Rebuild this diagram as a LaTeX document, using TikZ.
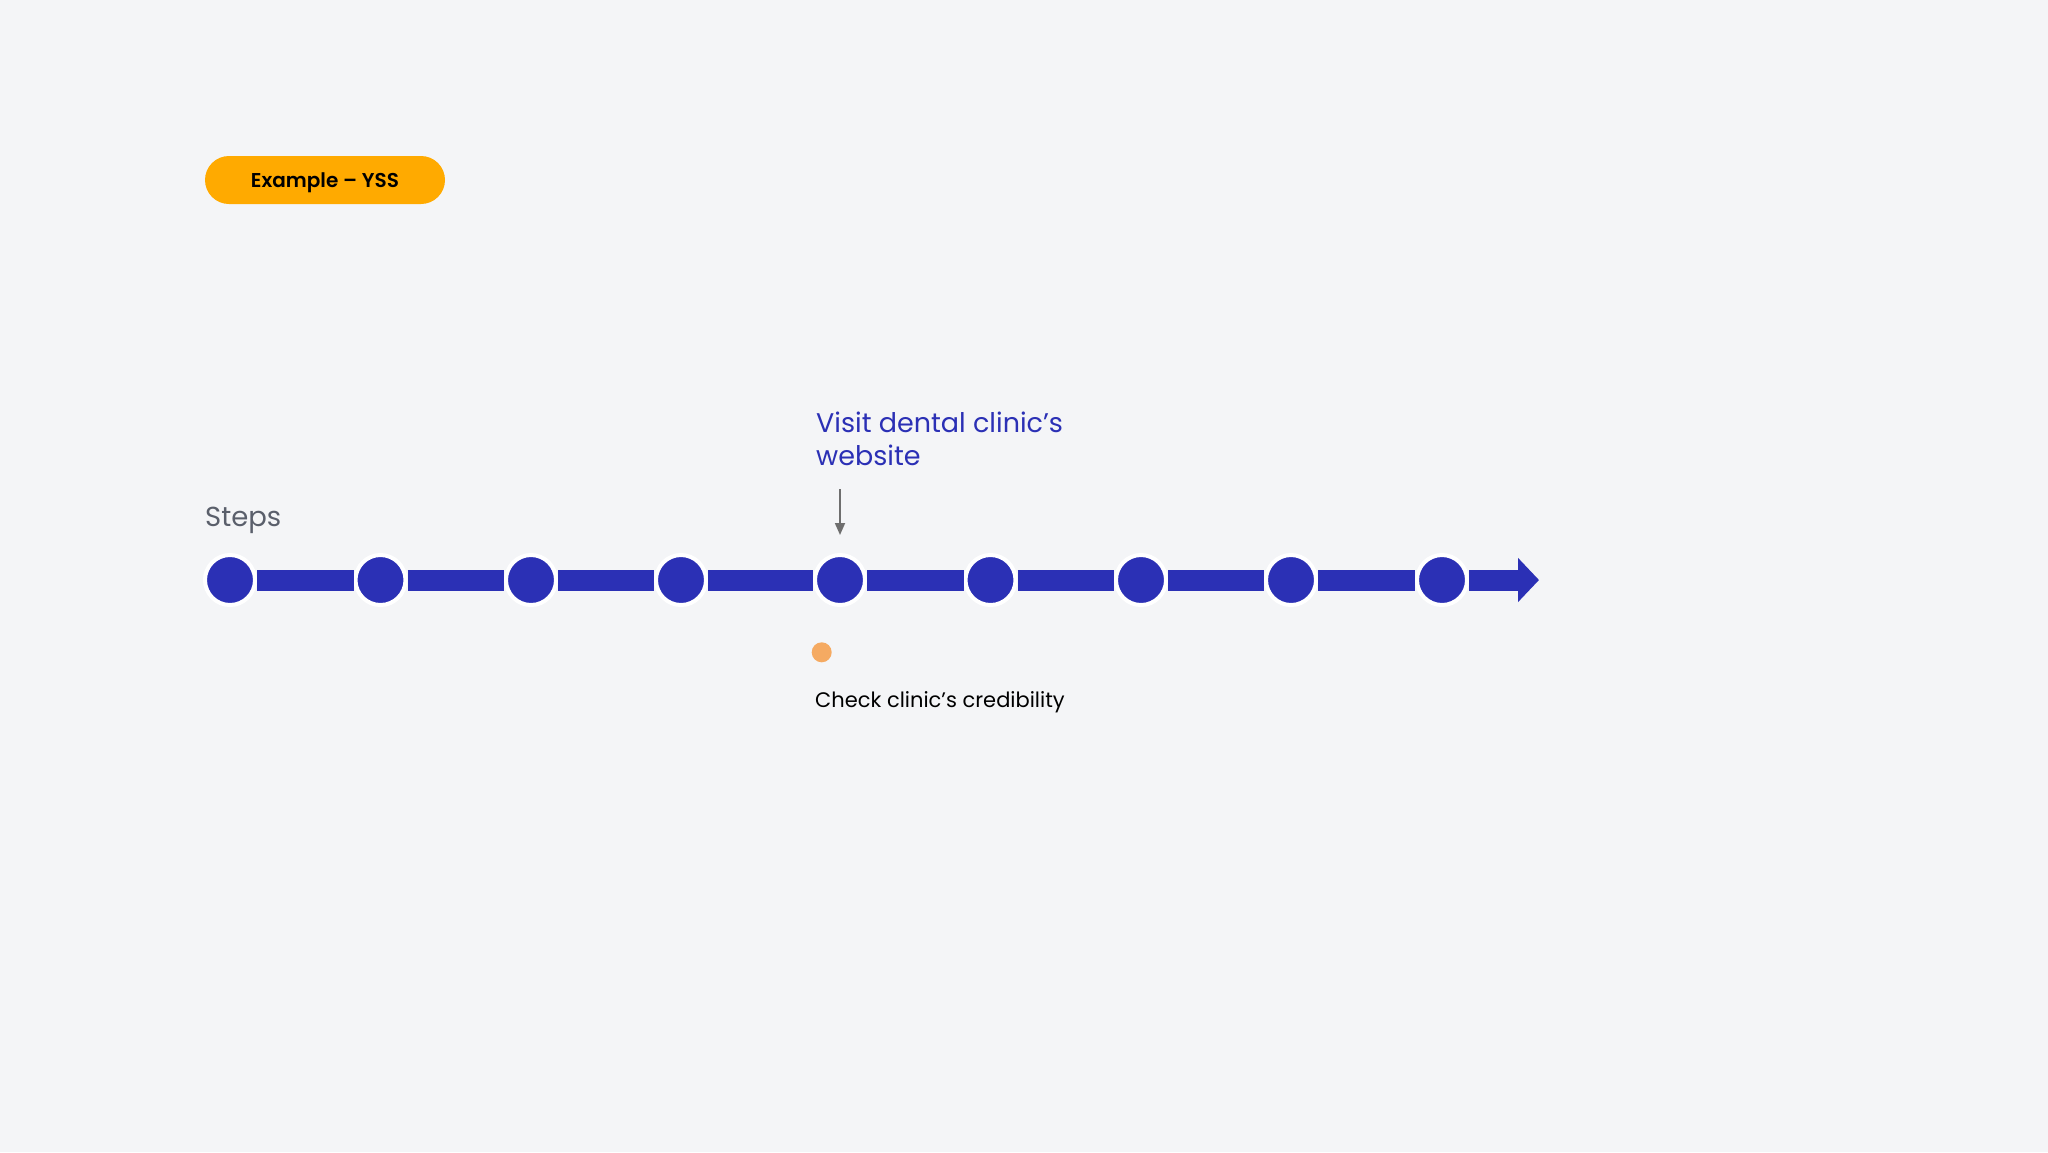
\documentclass[tikz,border=0pt]{standalone}
\usepackage{fontspec}
\IfFontExistsTF{Poppins SemiBold}{\setmainfont{Poppins}[BoldFont={Poppins SemiBold}]}{\setmainfont{Poppins}}
\usetikzlibrary{arrows.meta}
\definecolor{bg}{HTML}{F4F5F7}
\definecolor{tlblue}{HTML}{2B30B5}
\definecolor{pill}{HTML}{FFAA00}
\definecolor{dotorange}{HTML}{F5AA62}
\definecolor{stepgrey}{HTML}{5A5F6B}
\definecolor{arrowgrey}{HTML}{6E6E6E}
\tikzset{
  stepdot/.style={circle, fill=tlblue, draw=white, line width=4pt, minimum size=50pt, inner sep=0pt},
  track/.style={draw=tlblue, line width=21pt},
  pointer/.style={draw=arrowgrey, line width=1.8pt, -{Triangle[length=12pt 0, width=10pt 0]}},
}
\begin{document}
\begin{tikzpicture}[x=1pt,y=-1pt]
\fill[bg] (0,0) rectangle (2048,1152);
\useasboundingbox (0,0) rectangle (2048,1152);
% pill
\node[fill=pill, rounded corners=24pt, minimum width=240pt, minimum height=48pt, inner sep=0pt,
      text height=15pt, text depth=0pt,
      font=\fontsize{20}{24}\selectfont\bfseries] (pill) at (325,180) {Example – YSS};
% steps label
\node[anchor=base west, inner sep=0pt, text=stepgrey, font=\fontsize{27.5}{34}\selectfont] (steps) at (205,526) {Steps};
% dots
\foreach \i/\x in {1/230,2/380.5,3/531,4/681,5/840,6/990.5,7/1141,8/1291,9/1442}{
  \node[stepdot] (c\i) at (\x,580) {};
}
\coordinate (tip) at (1539,580);
\foreach \a/\b in {1/2,2/3,3/4,4/5,5/6,6/7,7/8,8/9}{
  \draw[track] (c\a) -- (c\b);
}
\draw[track, -{Triangle[length=21pt 0, width=43pt 0]}] (c9) -- (tip);
% top label
\node[anchor=base west, inner sep=0pt, text=tlblue, align=left, font=\fontsize{27}{33.5}\selectfont] (visit) at (816,465.5) {Visit dental clinic’s\\website};
\coordinate (ptop) at (840,489);
\coordinate (pbot) at (840,535);
\draw[pointer] (ptop) -- (pbot);
% orange dot and bottom label
\node[circle, fill=dotorange, minimum size=20pt, inner sep=0pt] (odot) at (821.7,652.3) {};
\node[anchor=base west, inner sep=0pt, text=black, font=\fontsize{21}{26}\selectfont] (check) at (815,707) {Check clinic’s credibility};
\end{tikzpicture}
\end{document}
